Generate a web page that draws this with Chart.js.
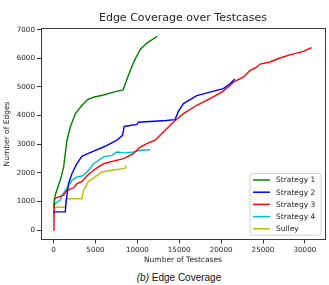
<!DOCTYPE html>
<html>
<head>
<meta charset="utf-8">
<script src="https://cdn.jsdelivr.net/npm/chart.js@4/dist/chart.umd.min.js"></script>
<style>
  html, body { margin: 0; padding: 0; background: #fff; }
  #wrap { position: relative; width: 329px; height: 285px; overflow: hidden; }
  #c { position: absolute; left: 0; top: 0; }
  #caption { position: absolute; left: 0; width: 358px; top: 272px; text-align: center;
             font-family: "Liberation Sans", Arial, sans-serif; font-size: 10px; color: #111; }
</style>
</head>
<body>
<div id="wrap">
  <canvas id="c" width="329" height="268"></canvas>
  <div id="caption"><i>(b)</i> Edge Coverage</div>
</div>
<script>
// ---- data ----
const chartTitle = "Edge Coverage over Testcases";
const xTitle = "Number of Testcases";
const yTitle = "Number of Edges";
const xTickValues = [0, 5000, 10000, 15000, 20000, 25000, 30000];
const yTickValues = [0, 1000, 2000, 3000, 4000, 5000, 6000, 7000];
const seriesNames = ["Strategy 1", "Strategy 2", "Strategy 3", "Strategy 4", "Sulley"];
const seriesColors = ["#008000", "#0000ff", "#ff0000", "#00bfbf", "#bfbf00"];

const s1X = [0, 100, 200, 500, 800, 1200, 1400, 1600, 2000, 2600, 3380, 4050, 4770, 5960, 7150, 8300, 8800, 9400, 9750, 10330, 11130, 12400];
const s1Y = [800, 1000, 1220, 1500, 1740, 2200, 2680, 3140, 3600, 4070, 4350, 4560, 4640, 4720, 4820, 4900, 5300, 5750, 5980, 6300, 6530, 6770];

const s2X = [0, 100, 1400, 1500, 1790, 2190, 2780, 3380, 4570, 6160, 7550, 8230, 8430, 9940, 10130, 13430, 14500, 14900, 15500, 17100, 18670, 20260, 21060, 21650];
const s2Y = [600, 640, 640, 990, 1630, 1970, 2320, 2580, 2730, 2930, 3140, 3310, 3620, 3690, 3770, 3830, 3860, 4150, 4420, 4700, 4820, 4940, 5110, 5280];

const s3X = [0, 50, 100, 1200, 1600, 2400, 2800, 3400, 4000, 4600, 5300, 6000, 7000, 8350, 9140, 9540, 10330, 11130, 12120, 13110, 14300, 15500, 17100, 18670, 20070, 21060, 21450, 22650, 23440, 24240, 24640, 25830, 27020, 28210, 29800, 30800];
const s3Y = [0, 400, 1100, 1220, 1390, 1480, 1630, 1700, 1900, 2050, 2200, 2320, 2400, 2500, 2610, 2680, 2900, 3020, 3140, 3430, 3770, 4070, 4360, 4590, 4820, 5050, 5170, 5340, 5570, 5690, 5800, 5870, 6010, 6120, 6240, 6370];

const s4X = [0, 200, 800, 1000, 1400, 2190, 2790, 3500, 4170, 4770, 5960, 6960, 7550, 8550, 9540, 10330, 11530];
const s4Y = [800, 930, 1050, 1220, 1390, 1740, 1860, 1900, 2090, 2320, 2560, 2610, 2730, 2700, 2730, 2790, 2810];

const s5X = [0, 50, 1400, 1500, 3380, 3580, 4170, 4970, 5770, 6960, 8350, 8550, 8700];
const s5Y = [450, 800, 800, 1100, 1100, 1390, 1700, 1860, 2030, 2090, 2150, 2160, 2260];

const allX = [s1X, s2X, s3X, s4X, s5X];
const allY = [s1Y, s2Y, s3Y, s4Y, s5Y];

const datasets = seriesNames.map((name, i) => ({
  label: name,
  data: allX[i].map((x, j) => ({ x: x, y: allY[i][j] })),
  borderColor: seriesColors[i],
  backgroundColor: seriesColors[i],
  borderWidth: 1.4,
  pointRadius: 0,
  showLine: true,
  tension: 0,
  fill: false
}));

const FONT = "'DejaVu Sans', sans-serif";
const TXT = "#262626";

const framePlugin = {
  id: 'frame',
  afterDraw(chart) {
    const ctx = chart.ctx;
    const a = chart.chartArea;
    ctx.save();
    // frame (four 1px lines)
    ctx.fillStyle = "#3a3a3a";
    const L = Math.floor(a.left), R = Math.floor(a.right), T = Math.floor(a.top), B = Math.floor(a.bottom);
    ctx.fillRect(L, T, R - L + 1, 1);
    ctx.fillRect(L, B, R - L + 1, 1);
    ctx.fillRect(L, T, 1, B - T + 1);
    ctx.fillRect(R, T, 1, B - T + 1);
    // title
    ctx.fillStyle = TXT;
    ctx.font = "11px " + FONT;
    ctx.textAlign = "center";
    ctx.textBaseline = "middle";
    ctx.fillText(chartTitle, (a.left + a.right) / 2, 18);
    // legend
    const lx = 250, ly = 173.5, lw = 71, lh = 61.5, r = 2.5;
    ctx.beginPath();
    ctx.moveTo(lx + r, ly);
    ctx.lineTo(lx + lw - r, ly);
    ctx.quadraticCurveTo(lx + lw, ly, lx + lw, ly + r);
    ctx.lineTo(lx + lw, ly + lh - r);
    ctx.quadraticCurveTo(lx + lw, ly + lh, lx + lw - r, ly + lh);
    ctx.lineTo(lx + r, ly + lh);
    ctx.quadraticCurveTo(lx, ly + lh, lx, ly + lh - r);
    ctx.lineTo(lx, ly + r);
    ctx.quadraticCurveTo(lx, ly, lx + r, ly);
    ctx.closePath();
    ctx.fillStyle = "rgba(255,255,255,0.85)";
    ctx.fill();
    ctx.strokeStyle = "#d0d0d0";
    ctx.lineWidth = 1;
    ctx.stroke();
    ctx.font = "7.5px " + FONT;
    ctx.textAlign = "left";
    seriesNames.forEach((name, i) => {
      const yy = 180 + i * 12.2;
      ctx.strokeStyle = seriesColors[i];
      ctx.lineWidth = 1.5;
      ctx.beginPath();
      ctx.moveTo(253, yy);
      ctx.lineTo(270, yy);
      ctx.stroke();
      ctx.fillStyle = TXT;
      ctx.fillText(name, 276, yy + 0.5);
    });
    ctx.restore();
  }
};

new Chart(document.getElementById('c'), {
  type: 'scatter',
  data: { datasets: datasets },
  options: {
    responsive: false,
    animation: false,
    layout: { padding: { top: 28.5, right: 4, bottom: 0, left: 0 } },
    plugins: { legend: { display: false }, title: { display: false }, tooltip: { enabled: false } },
    scales: {
      x: {
        type: 'linear',
        min: -1500,
        max: 32400,
        afterBuildTicks: (s) => { s.ticks = xTickValues.map(v => ({ value: v })); },
        afterFit: (s) => { s.height = 28.5; },
        border: { display: false },
        grid: { drawOnChartArea: false, drawTicks: true, tickLength: 4, color: "#3a3a3a", tickWidth: 1 },
        ticks: { padding: 2, color: TXT, font: { family: FONT, size: 7.2 }, maxRotation: 0, autoSkip: false,
                 callback: (v) => String(v) },
        title: { display: true, text: xTitle, color: TXT, font: { family: FONT, size: 7.5 }, padding: { top: 1, bottom: 3.5 } }
      },
      y: {
        type: 'linear',
        min: -325,
        max: 7040,
        afterBuildTicks: (s) => { s.ticks = yTickValues.map(v => ({ value: v })); },
        afterFit: (s) => { s.width = 41; },
        border: { display: false },
        grid: { drawOnChartArea: false, drawTicks: true, tickLength: 4, color: "#3a3a3a", tickWidth: 1 },
        ticks: { padding: 2, color: TXT, font: { family: FONT, size: 7.2 }, autoSkip: false,
                 callback: (v) => String(v) },
        title: { display: true, text: yTitle, color: TXT, font: { family: FONT, size: 7.5 }, padding: { top: 2.5, bottom: 0 } }
      }
    }
  },
  plugins: [framePlugin]
});
</script>
</body>
</html>
